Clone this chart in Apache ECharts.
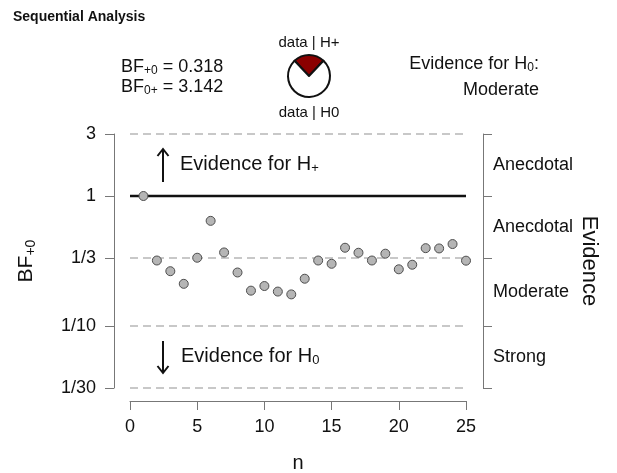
<!DOCTYPE html>
<html>
<head>
<meta charset="utf-8">
<script src="https://cdn.jsdelivr.net/npm/echarts@6/dist/echarts.min.js"></script>
<style>
  html, body { margin: 0; padding: 0; background: #fff; }
  #chart { width: 617px; height: 473px; }
</style>
</head>
<body>
<div id="chart"></div>
<script>
  // sequential Bayes factors BF+0, n = 1..25
  var nObs = [1, 2, 3, 4, 5, 6, 7, 8, 9, 10, 11, 12, 13, 14, 15, 16, 17, 18, 19, 20, 21, 22, 23, 24, 25]
  var bfPlus0 = [1, 0.319, 0.264, 0.211, 0.335, 0.644, 0.368, 0.258, 0.187, 0.203, 0.184, 0.175, 0.231,
    0.319, 0.301, 0.400, 0.366, 0.319, 0.360, 0.273, 0.296, 0.397, 0.395, 0.427, 0.318]
  var xTicks = [0, 5, 10, 15, 20, 25]
  var tickVals = [1 / 30, 1 / 10, 1 / 3, 1, 3]
  var tickLabels = ['1/30', '1/10', '1/3', '1', '3']
  var dashedVals = [1 / 30, 1 / 10, 1 / 3, 3]
  var evidenceLabels = ['Strong', 'Moderate', 'Anecdotal', 'Anecdotal'] // bottom to top
  var bfFinal = 0.318
  var bfFinalInv = 3.142

  var FONT = 'Liberation Sans, Arial, sans-serif'
  var INK = '#111'
  var lg = function (v) { return Math.log10(v) }
  var logTicks = tickVals.map(lg)
  // evidence category labels sit midway between ticks (log space)
  var midTicks = []
  for (var i = 0; i < logTicks.length - 1; i++) {
    midTicks.push((logTicks[i] + logTicks[i + 1]) / 2)
  }

  function nearest(arr, v) {
    var best = 0
    for (var k = 1; k < arr.length; k++) {
      if (Math.abs(arr[k] - v) < Math.abs(arr[best] - v)) best = k
    }
    return best
  }

  function hLine(v, color, width, type) {
    return {
      type: 'line',
      silent: true,
      clip: false,
      symbol: 'none',
      z: 1,
      lineStyle: { color: color, width: width, type: type },
      data: [[xTicks[0], lg(v)], [xTicks[xTicks.length - 1], lg(v)]]
    }
  }

  var rich = {
    a: { fontSize: 18, fontFamily: FONT, fill: INK },
    s: { fontSize: 12, fontFamily: FONT, fill: INK, padding: [8, 0, 0, 0] }
  }
  var richBig = {
    a: { fontSize: 20, fontFamily: FONT, fill: INK },
    s: { fontSize: 13, fontFamily: FONT, fill: INK, padding: [9, 0, 0, 0] }
  }

  var myChart = echarts.init(document.getElementById('chart'))

  var series = dashedVals.map(function (v) { return hLine(v, '#c8c8c8', 2, [8, 5]) })
  series.push(hLine(1, INK, 2.5, 'solid'))
  series.push({
    type: 'scatter',
    z: 5,
    symbol: 'circle',
    symbolSize: 9,
    itemStyle: { color: '#b5b5b5', borderColor: '#4d4d4d', borderWidth: 1, opacity: 1 },
    data: nObs.map(function (n, i) { return [n, lg(bfPlus0[i])] })
  })
  series.push({
    type: 'pie',
    center: [309, 76],
    radius: 21,
    startAngle: 90 + 180 * bfFinal / (1 + bfFinal),
    clockwise: true,
    label: { show: false },
    labelLine: { show: false },
    silent: true,
    itemStyle: { borderColor: INK, borderWidth: 2 },
    data: [
      { value: bfFinal / (1 + bfFinal), itemStyle: { color: '#8b0000' } },
      { value: 1 / (1 + bfFinal), itemStyle: { color: '#ffffff' } }
    ]
  })

  var option = {
    animation: false,
    textStyle: { fontFamily: FONT },
    grid: { left: 130, right: 151, top: 134, bottom: 85, outerBoundsMode: 'none', containLabel: false },
    xAxis: {
      type: 'value',
      min: xTicks[0],
      max: xTicks[xTicks.length - 1],
      interval: 5,
      offset: 13,
      name: 'n',
      nameLocation: 'middle',
      nameGap: 52,
      nameTextStyle: { fontSize: 20, color: INK },
      axisLine: { show: true, onZero: false, lineStyle: { color: '#777', width: 1 } },
      axisTick: { show: true, length: 9, lineStyle: { color: '#777' } },
      axisLabel: { fontSize: 18, color: INK, margin: 17 },
      splitLine: { show: false }
    },
    yAxis: [{
      type: 'value',
      min: lg(1 / 30),
      max: lg(3),
      position: 'left',
      offset: 16,
      name: '{a|BF}{s|+0}',
      nameLocation: 'middle',
      nameGap: 76,
      nameTextStyle: {
        rich: {
          a: { fontSize: 21, color: INK, fontFamily: FONT },
          s: { fontSize: 14, color: INK, fontFamily: FONT, padding: [9, 0, 0, 0] }
        }
      },
      axisLine: { show: true, onZero: false, lineStyle: { color: '#777', width: 1 } },
      axisTick: { show: true, length: 9, customValues: logTicks, lineStyle: { color: '#777' } },
      axisLabel: {
        fontSize: 18,
        color: INK,
        margin: 18,
        customValues: logTicks,
        formatter: function (v) { return tickLabels[nearest(logTicks, v)] }
      },
      splitLine: { show: false }
    }, {
      type: 'value',
      min: lg(1 / 30),
      max: lg(3),
      position: 'right',
      offset: 17,
      name: 'Evidence',
      nameLocation: 'middle',
      nameRotate: -90,
      nameGap: 95,
      nameMoveOverlap: false,
      nameTextStyle: { fontSize: 22, color: INK },
      axisLine: { show: true, onZero: false, lineStyle: { color: '#777', width: 1 } },
      axisTick: { show: true, length: 9, customValues: logTicks, lineStyle: { color: '#777' } },
      axisLabel: {
        fontSize: 18,
        color: INK,
        margin: 10,
        customValues: midTicks,
        formatter: function (v) { return evidenceLabels[nearest(midTicks, v)] }
      },
      splitLine: { show: false }
    }],
    graphic: [
      { type: 'text', left: 13, top: 10, style: { text: 'Sequential Analysis', font: 'bold 14px ' + FONT, fill: INK } },
      {
        type: 'text', x: 121, y: 67,
        style: { text: '{a|BF}{s|+0}{a| = ' + bfFinal.toFixed(3) + '}', verticalAlign: 'middle', rich: rich }
      },
      {
        type: 'text', x: 121, y: 87,
        style: { text: '{a|BF}{s|0+}{a| = ' + bfFinalInv.toFixed(3) + '}', verticalAlign: 'middle', rich: rich }
      },
      { type: 'text', x: 309, y: 43, style: { text: 'data | H+', font: '15px ' + FONT, fill: INK, align: 'center', verticalAlign: 'middle' } },
      { type: 'text', x: 309, y: 113, style: { text: 'data | H0', font: '15px ' + FONT, fill: INK, align: 'center', verticalAlign: 'middle' } },
      {
        type: 'text', x: 539, y: 64,
        style: { text: '{a|Evidence for H}{s|0}{a|:}', align: 'right', verticalAlign: 'middle', rich: rich }
      },
      { type: 'text', x: 539, y: 90, style: { text: 'Moderate', font: '18px ' + FONT, fill: INK, align: 'right', verticalAlign: 'middle' } },
      // arrows
      { type: 'line', shape: { x1: 163, y1: 182, x2: 163, y2: 149 }, style: { stroke: INK, lineWidth: 2 } },
      { type: 'polyline', shape: { points: [[157.5, 156], [163, 149], [168.5, 156]] }, style: { stroke: INK, lineWidth: 2, fill: null } },
      { type: 'line', shape: { x1: 163, y1: 341, x2: 163, y2: 373 }, style: { stroke: INK, lineWidth: 2 } },
      { type: 'polyline', shape: { points: [[157.5, 366], [163, 373], [168.5, 366]] }, style: { stroke: INK, lineWidth: 2, fill: null } },
      {
        type: 'text', x: 180, y: 164,
        style: { text: '{a|Evidence for H}{s|+}', verticalAlign: 'middle', rich: richBig }
      },
      {
        type: 'text', x: 181, y: 356,
        style: { text: '{a|Evidence for H}{s|0}', verticalAlign: 'middle', rich: richBig }
      }
    ],
    series: series
  }

  myChart.setOption(option)
</script>
</body>
</html>
